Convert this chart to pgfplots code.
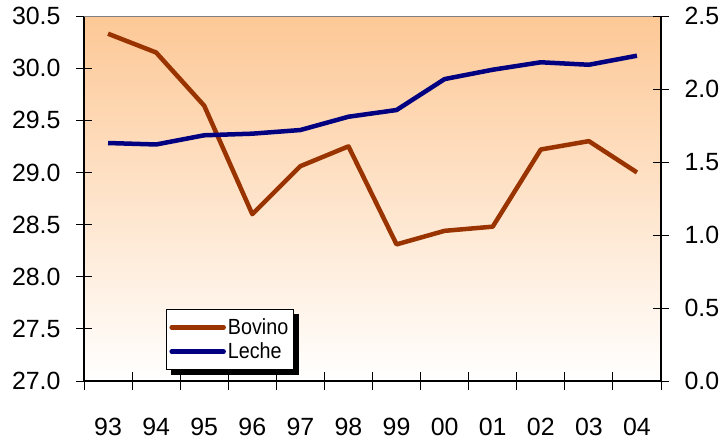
\documentclass[border=0pt]{standalone}
\usepackage{fontspec}
\setmainfont{Liberation Sans}
\newfontfamily\legfont{Liberation Sans}[FakeStretch=0.9]
\usepackage{pgfplots}
\pgfplotsset{compat=1.18}
\definecolor{bov}{RGB}{153,51,0}
\definecolor{lec}{RGB}{0,0,128}
\definecolor{peach}{RGB}{253,200,150}
\pgfplotsset{
  common/.style={
    at={(84bp,63bp)}, anchor=south west,
    width=577bp, height=365bp, scale only axis,
    xmin=-0.5, xmax=11.5,
    tick align=center,
    major tick length=16bp,
    tick style={black, line width=0.9bp},
    axis line style={black, line width=1.3bp},
    tick label style={font=\fontsize{25}{30}\selectfont},
    /pgf/number format/assume math mode=true,
    /pgf/number format/.cd, fixed, fixed zerofill, precision=1,
  },
}
\begin{document}
\begin{tikzpicture}
\begin{axis}[common,
  ymin=27, ymax=30.5,
  axis x line*=bottom, axis y line*=left,
  axis background/.style={shade, top color=peach, bottom color=white},
  xtick={0,...,11},
  xticklabels={93,94,95,96,97,98,99,00,01,02,03,04},
  major x tick style={draw=none},
  minor xtick={-0.5,0.5,...,11.5},
  minor tick length=18bp,
  minor x tick style={black, line width=0.9bp},
  xticklabel style={yshift=-26bp},
  ytick={27,27.5,...,30.5},
  yticklabel style={xshift=-12bp},
]
\addplot[bov, line width=4.5bp, line join=round] coordinates {
(0,30.33) (1,30.15) (2,29.64) (3,28.60) (4,29.06) (5,29.25)
(6,28.31) (7,28.44) (8,28.48) (9,29.22) (10,29.30) (11,29.00)};
\draw[gray, line width=1bp] (rel axis cs:0,1) -- (rel axis cs:1,1);
\end{axis}
\begin{axis}[common,
  ymin=0, ymax=2.5,
  axis x line=none, axis y line*=right,
  ytick={0,0.5,...,2.5},
  yticklabel style={xshift=12bp},
  legend style={name=leg, at={(0.142,0.197)}, anchor=north west,
    draw=black, line width=1bp, fill=white,
    font=\fontsize{22}{24}\selectfont\legfont,
    inner xsep=3bp, inner ysep=7bp, row sep=3bp,
    nodes={inner sep=2bp}},
  legend cell align=left,
  legend image code/.code={\draw[#1, line width=4.5bp, line cap=round] (2bp,0bp) -- (54bp,0bp);},
]
\addlegendimage{bov, line width=4.5bp}
\addlegendentry{Bovino}
\addplot[lec, line width=4.5bp, line join=round] coordinates {
(0,1.63) (1,1.62) (2,1.683) (3,1.694) (4,1.719) (5,1.81)
(6,1.856) (7,2.068) (8,2.132) (9,2.183) (10,2.166) (11,2.228)};
\addlegendentry{Leche}
\end{axis}
\fill[black] ([yshift=-5bp]leg.north east) rectangle ([xshift=5bp,yshift=-5bp]leg.south east);
\fill[black] ([xshift=5bp]leg.south west) rectangle ([xshift=5bp,yshift=-5bp]leg.south east);
\pgfresetboundingbox
\path[use as bounding box] (0,0) rectangle (722bp,444bp);
\end{tikzpicture}
\end{document}
